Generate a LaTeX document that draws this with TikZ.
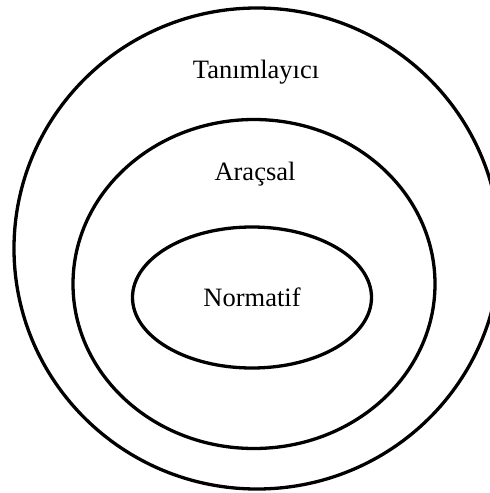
\documentclass[tikz,border=0pt]{standalone}
\usepackage{fontspec}
\setmainfont{Liberation Serif}
\begin{document}
\begin{tikzpicture}[x=1pt,y=-1pt,
  ring/.style={draw=black,line width=3.3pt},
  lbl/.style={font=\fontsize{26.5}{30}\selectfont,anchor=base,inner sep=0pt}]
\useasboundingbox (0,0) rectangle (490,493);
\clip (0,0) rectangle (490,493);
\draw[ring] (257,248.5) ellipse [x radius=243, y radius=240.5];
\draw[ring] (254,284) ellipse [x radius=181, y radius=164.5];
\draw[ring] (252,297.5) ellipse [x radius=119.5, y radius=70.5];
\node[lbl] (tan) at (256,78) {Tanımlayıcı};
\node[lbl] (ara) at (255,180) {Araçsal};
\node[lbl] (nor) at (252,306.5) {Normatif};
\end{tikzpicture}
\end{document}
